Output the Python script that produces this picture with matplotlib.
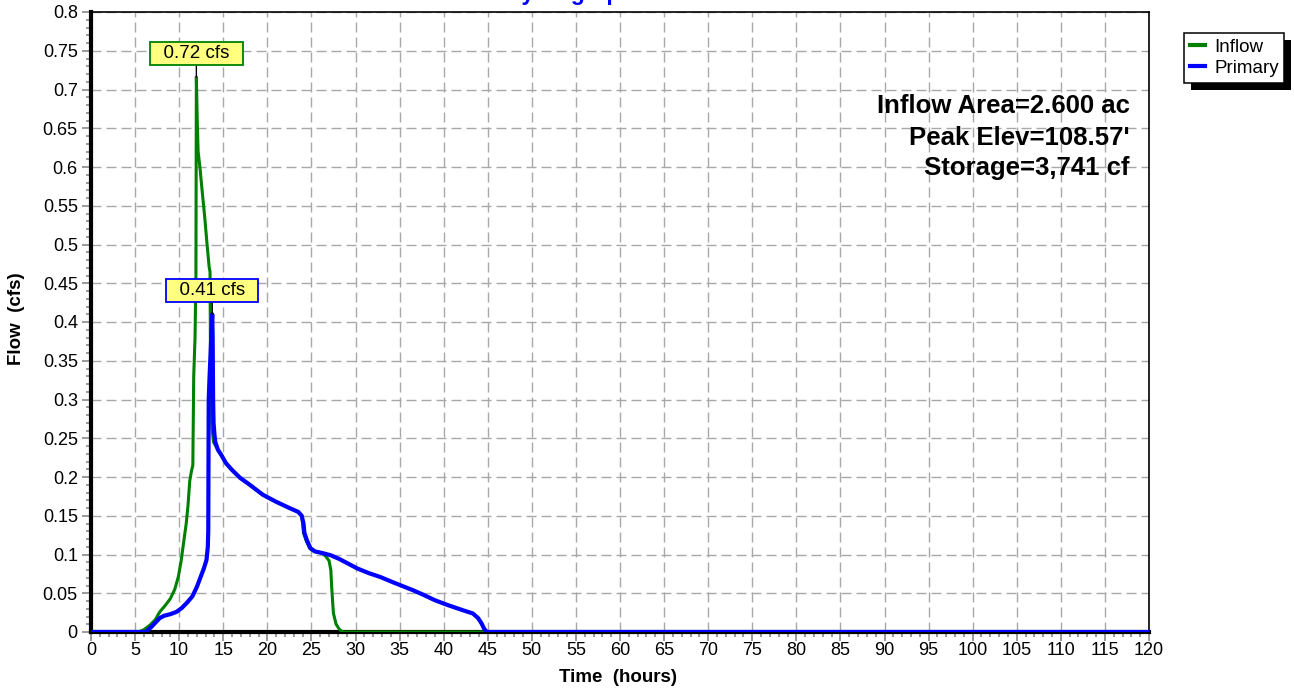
import matplotlib
matplotlib.use('Agg')
import matplotlib.pyplot as plt
from matplotlib.patches import Rectangle
from matplotlib.ticker import MultipleLocator, FuncFormatter

plt.rcParams['font.family'] = ['Liberation Sans', 'DejaVu Sans']

# ---------------- data ----------------
inflow_t = [0, 5.4, 6.0, 6.7, 7.3, 7.8, 8.4, 9.0, 9.5, 9.9,
            10.2, 10.5, 10.8, 11.0, 11.2, 11.4, 11.55, 11.65, 11.8, 11.9,
            11.95, 12.05, 12.15, 12.35, 12.6, 12.9, 13.15, 13.4, 13.5, 13.55,
            13.65, 13.7, 13.9, 14.4, 14.8, 15.3, 16.0, 16.9, 18.0, 19.5,
            21.0, 22.5, 23.5, 23.9, 24.0, 24.1, 24.4, 24.8, 25.3, 26.2,
            26.6, 27.0, 27.2, 27.3, 27.4, 27.5, 27.8, 28.2, 28.6, 120]
inflow_q = [0, 0, 0.003, 0.009, 0.016, 0.026, 0.034, 0.043, 0.055, 0.071,
            0.09, 0.115, 0.14, 0.163, 0.195, 0.208, 0.215, 0.33, 0.38, 0.46,
            0.716, 0.66, 0.62, 0.60, 0.57, 0.535, 0.502, 0.471, 0.465, 0.36,
            0.31, 0.265, 0.245, 0.235, 0.228, 0.218, 0.209, 0.199, 0.19, 0.177,
            0.168, 0.160, 0.155, 0.150, 0.14, 0.128, 0.118, 0.108, 0.104, 0.102,
            0.098, 0.092, 0.08, 0.058, 0.04, 0.024, 0.01, 0.003, 0, 0]

primary_t = [0, 6.2, 6.8, 7.3, 7.8, 8.3, 9.0, 9.7, 10.3, 10.9,
             11.5, 12.0, 12.4, 12.8, 13.1, 13.25, 13.3, 13.35, 13.45, 13.6,
             13.75, 13.8, 13.85, 13.9, 14.0, 14.1, 14.4, 14.8, 15.3, 16.0,
             16.9, 18.0, 19.5, 21.0, 22.5, 23.5, 23.9, 24.1, 24.2, 24.5,
             24.9, 25.4, 26.2, 27.2, 28.2, 29.2, 30.2, 31.5, 32.8, 34.5,
             36.5, 37.7, 39.0, 40.4, 42.2, 43.3, 43.9, 44.3, 44.6, 44.9, 120]
primary_q = [0, 0, 0.006, 0.012, 0.018, 0.021, 0.023, 0.026, 0.031, 0.038,
             0.046, 0.058, 0.07, 0.082, 0.093, 0.11, 0.13, 0.30, 0.33, 0.37,
             0.41, 0.38, 0.30, 0.27, 0.255, 0.245, 0.235, 0.228, 0.218, 0.209,
             0.199, 0.19, 0.177, 0.168, 0.160, 0.155, 0.150, 0.140, 0.128, 0.118,
             0.108, 0.104, 0.102, 0.099, 0.094, 0.088, 0.082, 0.076, 0.071, 0.063,
             0.054, 0.048, 0.041, 0.035, 0.028, 0.024, 0.018, 0.011, 0.004, 0, 0]

series_names = ['Inflow', 'Primary']
series_colors = ['#008000', '#0000FF']
series_widths = [2.2, 3.0]

info_lines = ['Inflow Area=2.600 ac', "Peak Elev=108.57'", 'Storage=3,741 cf']
title_text = 'Hydrograph'
x_label = 'Time  (hours)'
y_label = 'Flow  (cfs)'
x_range = (0, 120)
y_range = (0, 0.8)

# ---------------- figure ----------------
W, H = 1294, 690
fig = plt.figure(figsize=(W / 100, H / 100), dpi=100)
ax = fig.add_axes([91 / W, 1 - 632 / H, (1149 - 91) / W, (632 - 12) / H])

ax.set_xlim(*x_range)
ax.set_ylim(*y_range)
ax.xaxis.set_major_locator(MultipleLocator(5))
ax.xaxis.set_minor_locator(MultipleLocator(1))
ax.yaxis.set_major_locator(MultipleLocator(0.05))
ax.yaxis.set_minor_locator(MultipleLocator(0.01))
ax.yaxis.set_major_formatter(FuncFormatter(lambda v, p: f"{round(v, 3):g}"))

ax.grid(True, which='major', color='#a8a8a8', linewidth=1.0,
        linestyle=(0, (7.2, 3.6)), zorder=0)
ax.set_axisbelow(True)

ax.tick_params(which='major', direction='out', length=6.5, width=1.1,
               color='#808080', labelsize=13, labelcolor='black')
ax.tick_params(which='minor', direction='out', length=3.5, width=1.1,
               color='#808080')
ax.tick_params(axis='x', which='major', pad=0.5)
ax.tick_params(axis='y', which='major', pad=3)

for side in ['left', 'bottom']:
    ax.spines[side].set_linewidth(3.0)
    ax.spines[side].set_color('black')
for side in ['top', 'right']:
    ax.spines[side].set_linewidth(1.2)
    ax.spines[side].set_color('black')

handles = []
for t, q, name, c, lw in zip([inflow_t, primary_t], [inflow_q, primary_q],
                             series_names, series_colors, series_widths):
    ln, = ax.plot(t, q, color=c, linewidth=lw, label=name, zorder=3,
                  solid_joinstyle='round')
    handles.append(ln)

# peak labels
for t, q, c in zip([inflow_t, primary_t], [inflow_q, primary_q], series_colors):
    i = max(range(len(q)), key=lambda k: q[k])
    ax.annotate(f"  {q[i]:.2f} cfs  ", xy=(t[i], q[i]), xytext=(0, 17),
                textcoords='offset points', ha='center', va='center',
                fontsize=13.5, zorder=6,
                bbox=dict(boxstyle='square,pad=0.15', fc='#FFFF80', ec=c, lw=1.3),
                arrowprops=dict(arrowstyle='-', color='black', lw=1.0,
                                shrinkA=0, shrinkB=0))

# info text
info_y = [113, 145, 175]
for txt, py in zip(info_lines, info_y):
    ax.text((1130 - 91) / (1149 - 91), (632 - py) / (632 - 12), txt,
            transform=ax.transAxes, ha='right', va='baseline',
            fontsize=18.5, fontweight='bold', color='black', zorder=5)

# axis labels
ax.set_xlabel(x_label, fontsize=13.5, fontweight='bold')
ax.xaxis.label.set_va('baseline')
ax.xaxis.set_label_coords((618 - 91) / (1149 - 91), (632 - 682) / (632 - 12))
ax.set_ylabel(y_label, fontsize=13.5, fontweight='bold')
ax.yaxis.label.set_va('center')
ax.yaxis.set_label_coords((17 - 91) / (1149 - 91), 0.505)

# title (mostly clipped at top edge, as in reference)
fig.text(570 / W, 1.0, title_text, ha='center', va='baseline', color='#0000FF',
         fontsize=16.5, fontweight='bold')

# legend with black drop shadow
leg = fig.legend(handles=handles, labels=series_names, loc='upper left',
                 bbox_to_anchor=(1184 / W, 1 - 33 / H), fontsize=13.5,
                 frameon=True, fancybox=False, framealpha=1, edgecolor='black',
                 handlelength=0.8, handletextpad=0.5, borderpad=0.3,
                 labelspacing=0.22, borderaxespad=0)
leg.get_frame().set_linewidth(1.1)
for lh in leg.get_lines():
    lh.set_linewidth(3.0)
fig.canvas.draw()
bb = leg.get_window_extent()
inv = fig.transFigure.inverted()
(x0, y0) = inv.transform((bb.x0 + 7, bb.y0 - 7))
(x1, y1) = inv.transform((bb.x1 + 7, bb.y1 - 7))
fig.add_artist(Rectangle((x0, y0), x1 - x0, y1 - y0, transform=fig.transFigure,
                         facecolor='black', edgecolor='none', zorder=4))
leg.set_zorder(5)

fig.savefig('out.png', dpi=100)
